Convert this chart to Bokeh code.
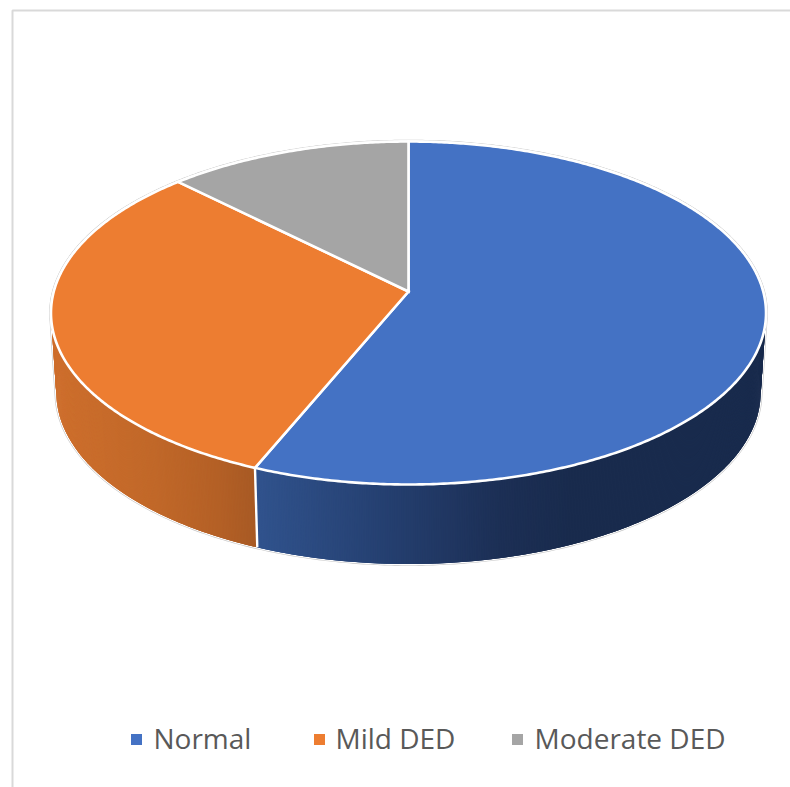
import math

from bokeh.core.properties import value
from bokeh.embed import file_html
from bokeh.models import Range1d
from bokeh.plotting import figure
from bokeh.resources import INLINE

# Survey counts per group
categories = ["Normal", "Mild DED", "Moderate DED"]
counts = [18, 10, 4]

top_colors = ["#4472C4", "#ED7D31", "#A5A5A5"]
# Shading along the rim: (screen x, rgb) stops for each visible wall
wall_ramps = [
    [(258, (48, 82, 140)), (380, (37, 64, 113)), (500, (28, 47, 85)), (570, (25, 43, 77)), (770, (25, 43, 77))],
    [(50, (206, 111, 45)), (150, (193, 104, 41)), (215, (180, 96, 38)), (258, (166, 89, 36))],
    [(0, (124, 124, 124)), (800, (124, 124, 124))],
]
legend_swatch_x = [136, 319, 517]
legend_text_x = [153, 335, 534]
LEGEND_Y = 739
LEGEND_TEXT_Y = 737

# Perspective placement of the disc on the page
CX, APEX_Y = 408, 291
FAR_Y, NEAR_Y = 141, 484
RX = 354.7
DEPTH = 79.5
BASE_SCALE = 0.985

k = (2 * APEX_Y - FAR_Y - NEAR_Y) / (FAR_Y - NEAR_Y)
ay = FAR_Y * (1 + k) - APEX_Y


def top_point(deg):
    """Rim point of the upper face; deg runs clockwise from twelve o'clock."""
    t = math.radians(deg)
    u, v = math.sin(t), math.cos(t)
    w = 1 + k * v
    return CX + RX * u / w, (ay * v + APEX_Y) / w


def base_point(deg):
    x, y = top_point(deg)
    return CX + BASE_SCALE * (x - CX), y + DEPTH


def arc(fn, a, b, step=0.5):
    n = max(2, int(abs(b - a) / step))
    return [fn(a + (b - a) * i / n) for i in range(n + 1)]


def ramp(stops, x):
    if x <= stops[0][0]:
        c = stops[0][1]
    elif x >= stops[-1][0]:
        c = stops[-1][1]
    else:
        for (x0, c0), (x1, c1) in zip(stops, stops[1:]):
            if x0 <= x <= x1:
                f = (x - x0) / (x1 - x0)
                c = tuple(c0[i] + (c1[i] - c0[i]) * f for i in range(3))
                break
    return "#%02x%02x%02x" % tuple(int(round(v)) for v in c)


total = sum(counts)
edges = [0.0]
for c in counts:
    edges.append(edges[-1] + 360.0 * c / total)

p = figure(
    width=790,
    height=787,
    x_range=Range1d(0, 790),
    y_range=Range1d(787, 0),
    x_axis_type=None,
    y_axis_type=None,
    toolbar_location=None,
    output_backend="svg",
    min_border=0,
    outline_line_color=None,
    background_fill_color="white",
    border_fill_color="white",
)
p.grid.visible = False

# Chart frame
p.line([12, 12, 790], [787, 10, 10], line_color="#d9d9d9", line_width=2)

# Outer silhouette: a thin grey halo with a white edge inside it
VIS_START, VIS_END = 100.0, 260.0
outline = arc(top_point, VIS_END, VIS_START + 360) + arc(base_point, VIS_START, VIS_END)
ox, oy = [q[0] for q in outline], [q[1] for q in outline]
p.patch(ox, oy, fill_alpha=0, line_color="#c6c6c6", line_width=3.6)
p.patch(ox, oy, fill_alpha=0, line_color="white", line_width=2.4)

# Side wall as narrow shaded strips, clipped to the part facing the viewer
strip_xs, strip_ys, strip_colors = [], [], []
for i in range(len(counts)):
    a = max(edges[i], 90.0)
    b = min(edges[i + 1], 270.0)
    if b <= a:
        continue
    # Each strip overlaps the next so no antialiased seam shows between them
    pts = arc(lambda d: d, a, b, step=0.25)
    for d0, d1 in zip(pts, pts[1:]):
        d2 = min(d1 + 0.5, b)
        t0, t1 = top_point(d0), top_point(d2)
        b0, b1 = base_point(d0), base_point(d2)
        strip_xs.append([t0[0], t1[0], b1[0], b0[0]])
        strip_ys.append([t0[1], t1[1], b1[1], b0[1]])
        strip_colors.append(ramp(wall_ramps[i], (t0[0] + t1[0]) / 2))
p.patches(strip_xs, strip_ys, fill_color=strip_colors, line_color=None)

# White seams where the wall changes slice
for e in edges[1:-1]:
    if 90 < e < 270:
        t0, b0 = top_point(e), base_point(e)
        p.line([t0[0], b0[0]], [t0[1], b0[1]], line_color="white", line_width=2.4)

# Upper face
xs, ys = [], []
for i in range(len(counts)):
    rim = arc(top_point, edges[i], edges[i + 1])
    xs.append([CX] + [q[0] for q in rim])
    ys.append([APEX_Y] + [q[1] for q in rim])
p.patches(xs, ys, fill_color=top_colors, line_color="white", line_width=2.6, line_join="miter")

# Legend
p.scatter(legend_swatch_x, [LEGEND_Y] * 3, marker="square", size=11, fill_color=top_colors, line_color=None)
p.text(
    legend_text_x,
    [LEGEND_TEXT_Y] * 3,
    text=categories,
    text_font=value("Open Sans"),
    text_font_size="28px",
    text_color="#595959",
    text_baseline="middle",
    text_align="left",
)

open("out.html", "w").write(file_html(p, INLINE))
